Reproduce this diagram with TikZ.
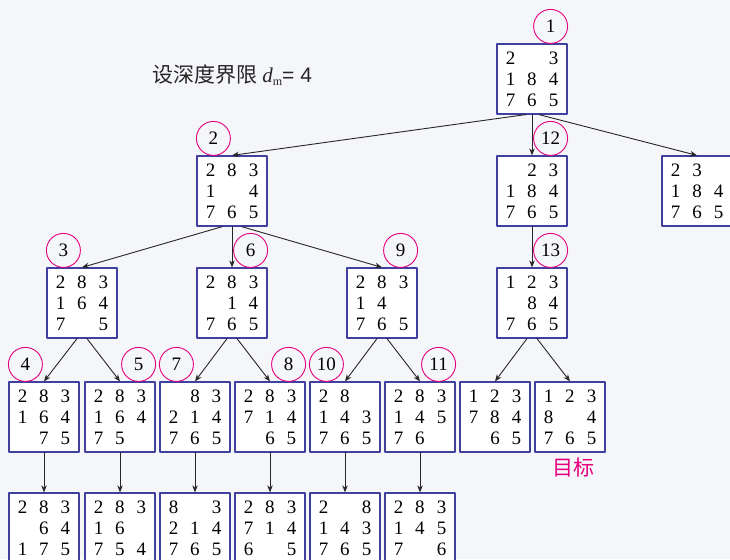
\documentclass[tikz,border=0pt]{standalone}
\usepackage{fontspec}
\setmainfont{Liberation Serif}
\newfontfamily\cjk{Noto Sans CJK SC}
\newfontfamily\arialf{Liberation Sans}
\usetikzlibrary{arrows.meta}
\definecolor{boxblue}{RGB}{64,64,158}
\definecolor{tagpink}{RGB}{228,0,127}
\definecolor{bgcol}{RGB}{245,246,249}
\newcommand{\pzcell}[1]{\makebox[21.5pt]{#1}}
\newcommand{\pz}[9]{\pzcell{#1}\pzcell{#2}\pzcell{#3}\\\pzcell{#4}\pzcell{#5}\pzcell{#6}\\\pzcell{#7}\pzcell{#8}\pzcell{#9}}
\begin{document}
\begin{tikzpicture}[line cap=round,line join=round,>={Stealth[length=7pt,width=5.5pt]},x=1pt,y=1pt,
  box/.style={draw=boxblue,line width=1.2pt,fill=white,minimum width=70pt,minimum height=70pt,inner sep=0pt,align=center,font=\fontsize{19}{21}\selectfont},
  tag/.style={draw=tagpink,line width=0.9pt,circle,minimum size=34pt,inner sep=0pt,font=\fontsize{19}{19}\selectfont},
  edge/.style={->,line width=0.9pt,draw=black!85}]
\useasboundingbox (0,0) rectangle (730,559);
\clip (0,0) rectangle (730,559);
\fill[bgcol] (0,0) rectangle (730,559);
\node[text=black!85,font=\fontsize{21}{21}\selectfont] (lim) at (232,484) {{\cjk 设深度界限} \textit{d}\raisebox{-0.3ex}{\fontsize{12}{12}\selectfont m}{\arialf= 4}};
% depth 0 and 1
\node[box] (b1) at (532,480) {\pz{2}{}{3}{1}{8}{4}{7}{6}{5}};
\node[box] (b2) at (232,368) {\pz{2}{8}{3}{1}{}{4}{7}{6}{5}};
\node[box] (b12) at (532,368) {\pz{}{2}{3}{1}{8}{4}{7}{6}{5}};
\node[box] (br) at (697,368) {\pz{2}{3}{}{1}{8}{4}{7}{6}{5}};
% depth 2
\node[box] (b3) at (82,256) {\pz{2}{8}{3}{1}{6}{4}{7}{}{5}};
\node[box] (b6) at (232,256) {\pz{2}{8}{3}{}{1}{4}{7}{6}{5}};
\node[box] (b9) at (382,256) {\pz{2}{8}{3}{1}{4}{}{7}{6}{5}};
\node[box] (b13) at (532,256) {\pz{1}{2}{3}{}{8}{4}{7}{6}{5}};
% depth 3
\node[box] (b4) at (44,142) {\pz{2}{8}{3}{1}{6}{4}{}{7}{5}};
\node[box] (b5) at (120,142) {\pz{2}{8}{3}{1}{6}{4}{7}{5}{}};
\node[box] (b7) at (195,142) {\pz{}{8}{3}{2}{1}{4}{7}{6}{5}};
\node[box] (b8) at (270,142) {\pz{2}{8}{3}{7}{1}{4}{}{6}{5}};
\node[box] (b10) at (345,142) {\pz{2}{8}{}{1}{4}{3}{7}{6}{5}};
\node[box] (b11) at (420,142) {\pz{2}{8}{3}{1}{4}{5}{7}{6}{}};
\node[box] (bg1) at (495,142) {\pz{1}{2}{3}{7}{8}{4}{}{6}{5}};
\node[box] (bg2) at (570,142) {\pz{1}{2}{3}{8}{}{4}{7}{6}{5}};
% depth 4
\node[box] (c4) at (44,31) {\pz{2}{8}{3}{}{6}{4}{1}{7}{5}};
\node[box] (c5) at (120,31) {\pz{2}{8}{3}{1}{6}{}{7}{5}{4}};
\node[box] (c7) at (195,31) {\pz{8}{}{3}{2}{1}{4}{7}{6}{5}};
\node[box] (c8) at (270,31) {\pz{2}{8}{3}{7}{1}{4}{6}{}{5}};
\node[box] (c10) at (345,31) {\pz{2}{}{8}{1}{4}{3}{7}{6}{5}};
\node[box] (c11) at (420,31) {\pz{2}{8}{3}{1}{4}{5}{7}{}{6}};
\node[text=tagpink,font=\cjk\fontsize{21}{21}\selectfont] (goal) at (573,91) {目标};
% order tags
\node[tag] (t1) at ([shift={(-17,17)}]b1.north east) {1};
\node[tag] (t2) at ([shift={(17,17)}]b2.north west) {2};
\node[tag] (t12) at ([shift={(-17,17)}]b12.north east) {12};
\node[tag] (t3) at ([shift={(17,17)}]b3.north west) {3};
\node[tag] (t6) at ([shift={(-17,17)}]b6.north east) {6};
\node[tag] (t9) at ([shift={(-17,17)}]b9.north east) {9};
\node[tag] (t13) at ([shift={(-17,17)}]b13.north east) {13};
\node[tag] (t4) at ([shift={(17,17)}]b4.north west) {4};
\node[tag] (t5) at ([shift={(-17,17)}]b5.north east) {5};
\node[tag] (t7) at ([shift={(17,17)}]b7.north west) {7};
\node[tag] (t8) at ([shift={(-17,17)}]b8.north east) {8};
\node[tag] (t10) at ([shift={(17,17)}]b10.north west) {10};
\node[tag] (t11) at ([shift={(-17,17)}]b11.north east) {11};
% edges
\draw[edge] (b1.260) -- (b2.north);
\draw[edge] (b1.south) -- (b12.north);
\draw[edge] (b1.281) -- (br.north);
\draw[edge] (b2.255) -- (b3.north);
\draw[edge] (b2.south) -- (b6.north);
\draw[edge] (b2.285) -- (b9.north);
\draw[edge] (b12.south) -- (b13.north);
\draw[edge] (b3.262) -- (b4.north);
\draw[edge] (b3.278) -- (b5.north);
\draw[edge] (b6.262) -- (b7.north);
\draw[edge] (b6.278) -- (b8.north);
\draw[edge] (b9.262) -- (b10.north);
\draw[edge] (b9.278) -- (b11.north);
\draw[edge] (b13.262) -- (bg1.north);
\draw[edge] (b13.278) -- (bg2.north);
\draw[edge] (b4.south) -- (c4.north);
\draw[edge] (b5.south) -- (c5.north);
\draw[edge] (b7.south) -- (c7.north);
\draw[edge] (b8.south) -- (c8.north);
\draw[edge] (b10.south) -- (c10.north);
\draw[edge] (b11.south) -- (c11.north);
\end{tikzpicture}
\end{document}
